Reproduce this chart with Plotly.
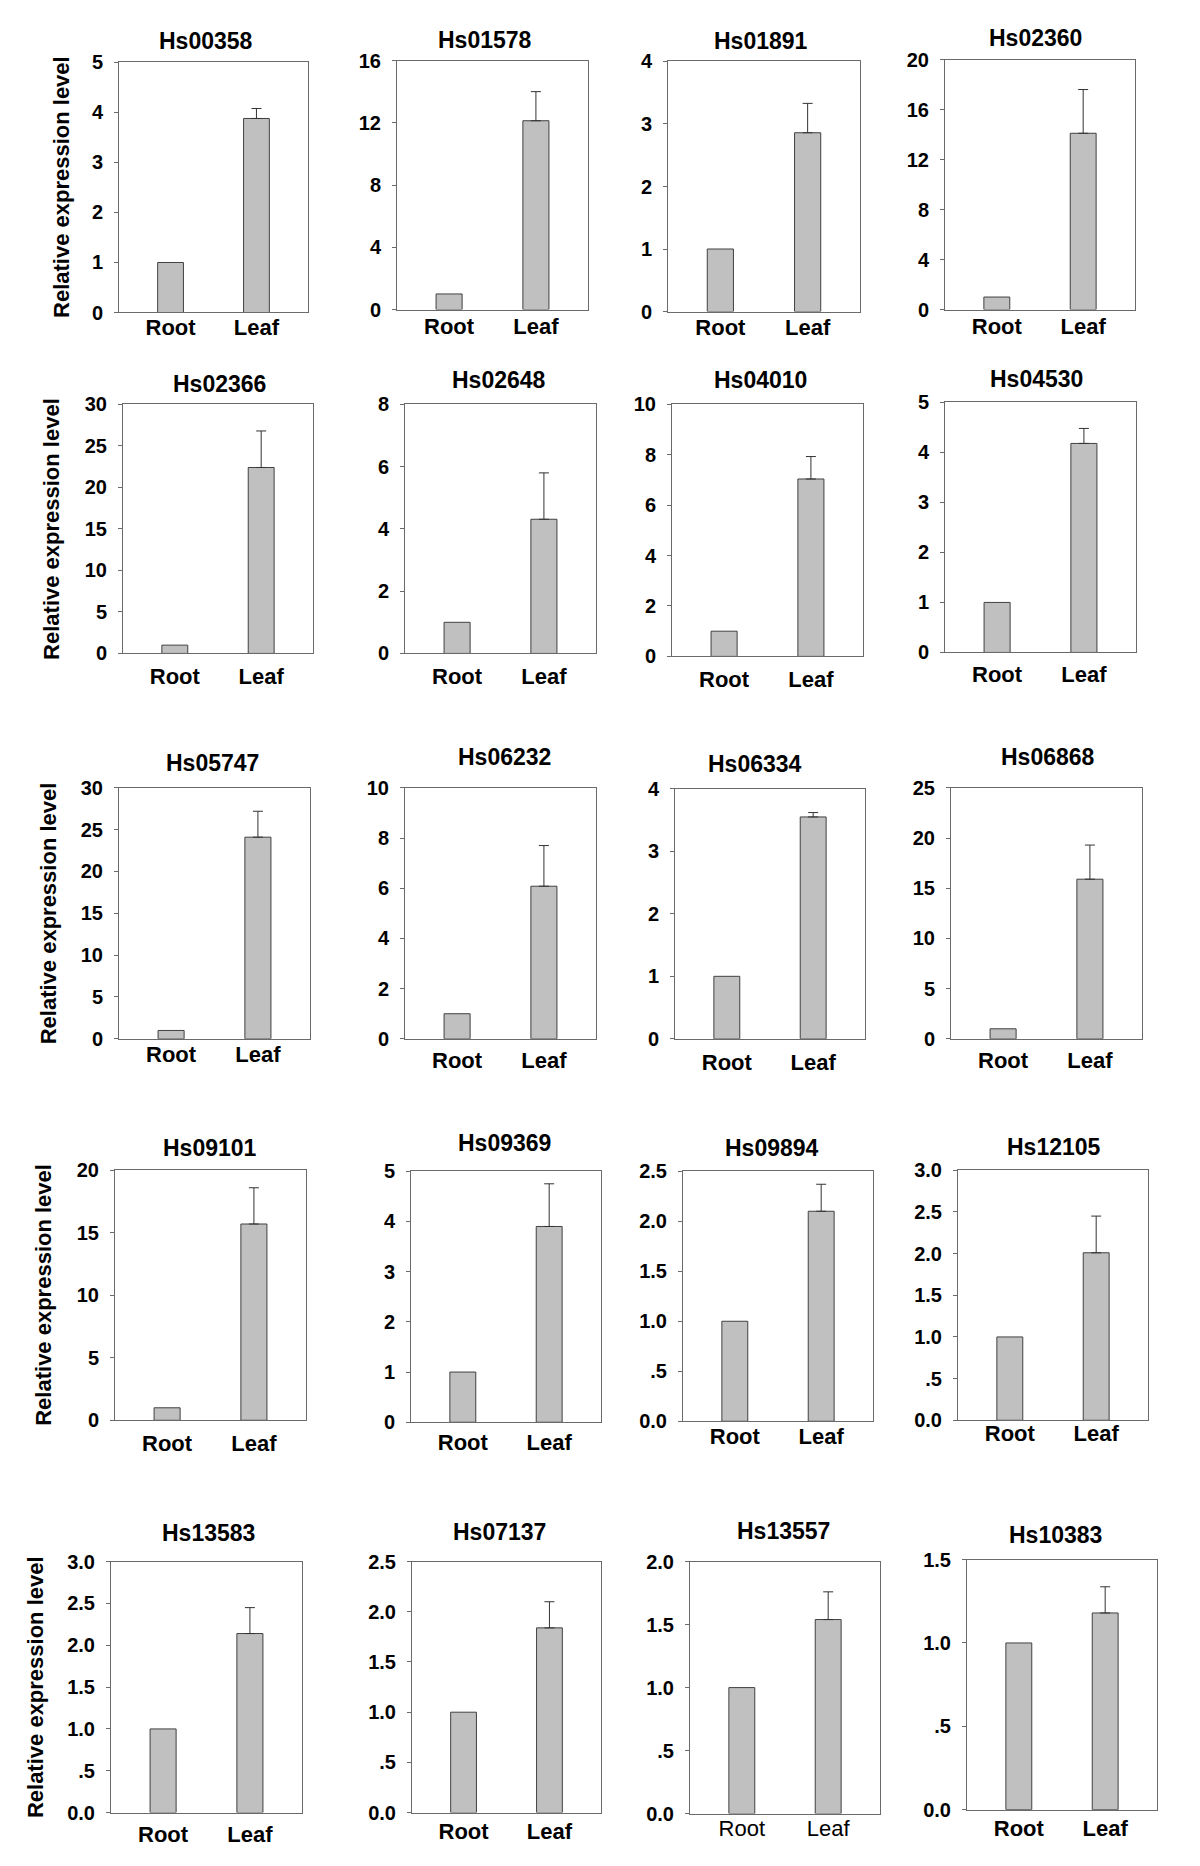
import plotly.graph_objects as go

# ---------------- data ----------------
genes = ["Hs00358", "Hs01578", "Hs01891", "Hs02360",
         "Hs02366", "Hs02648", "Hs04010", "Hs04530",
         "Hs05747", "Hs06232", "Hs06334", "Hs06868",
         "Hs09101", "Hs09369", "Hs09894", "Hs12105",
         "Hs13583", "Hs07137", "Hs13557", "Hs10383"]
categories = ["Root", "Leaf"]
root_values = [1, 1, 1, 1, 1, 1, 1, 1, 1, 1, 1, 1, 1, 1, 1, 1, 1, 1, 1, 1]
leaf_values = [3.88, 12.13, 2.86, 14.1, 22.4, 4.31, 7.04, 4.18, 24.1, 6.08,
               3.55, 15.9, 15.7, 3.90, 2.10, 2.01, 2.14, 1.84, 1.54, 1.18]
leaf_errors = [0.20, 1.87, 0.47, 3.5, 4.4, 1.49, 0.89, 0.30, 3.1, 1.62,
               0.07, 3.4, 2.9, 0.85, 0.27, 0.44, 0.31, 0.26, 0.22, 0.157]
y_max = [5, 16, 4, 20, 30, 8, 10, 5, 30, 10, 4, 25, 20, 5, 2.5, 3, 3, 2.5, 2, 1.5]
y_dtick = [1, 4, 1, 4, 5, 2, 2, 1, 5, 2, 1, 5, 5, 1, 0.5, 0.5, 0.5, 0.5, 0.5, 0.5]
y_axis_title = "Relative expression level"

# ---------------- layout (pixels in the page) ----------------
W, H = 1200, 1866
OFF = 8  # default body margin of the html page
panels = [  # left, right, top, bottom
    (119, 308, 52, 305), (397, 588, 50, 302), (668, 860, 51, 304), (945, 1135, 49, 302),
    (123, 313, 398, 650), (405, 596, 398, 650), (672, 863, 398, 653), (945, 1136, 396, 649),
    (119, 310, 786, 1040), (405, 596, 786, 1040), (675, 865, 787, 1040), (951, 1142, 786, 1040),
    (115, 306, 1173, 1426), (411, 601, 1174, 1428), (683, 873, 1174, 1427), (958, 1148, 1173, 1426),
    (111, 302, 1569, 1823), (412, 601, 1569, 1823), (690, 880, 1569, 1824), (967, 1157, 1567, 1820),
]
title_pos = [(206, 30), (485, 29), (761, 30), (1035, 27),
             (219, 377), (499, 373), (760, 373), (1036, 372),
             (212, 761), (504, 755), (755, 762), (1048, 755),
             (210, 1150), (504, 1145), (772, 1150), (1054, 1149),
             (208, 1540), (500, 1539), (783, 1538), (1055, 1542)]
xlabel_offset = [15, 17, 16, 17, 23, 23, 23, 22, 16, 22, 24, 22, 23, 20, 15, 13, 22, 19, 15, 19]
ytitle_pos = [(62, 178), (52, 524), (48, 913), (44, 1299), (35, 1696)]

FONT = "Liberation Sans, Arial, sans-serif"
BAR_FILL = "#c0c0c0"
BAR_LINE = "#404040"
AXIS = "#6a6a6a"


def px(x):
    return (x - OFF) / W


def py(y):
    return 1 - (y - OFF) / H


def fmt_tick(v, dt):
    if dt >= 1:
        return str(int(round(v)))
    if abs(v) < 1e-9:
        return "0.0"
    s = "%.1f" % v
    if s.startswith("0."):
        s = s[1:]
    return s


fig = go.Figure()
layout = dict(
    width=W, height=H, margin=dict(l=0, r=0, t=0, b=0),
    paper_bgcolor="white", plot_bgcolor="white",
    showlegend=False, barmode="overlay",
    font=dict(family=FONT, color="black"),
)
annotations = []

for i, g in enumerate(genes):
    n = i + 1
    xa = "x" if n == 1 else "x%d" % n
    ya = "y" if n == 1 else "y%d" % n
    l, r, t, b = panels[i]

    fig.add_trace(go.Bar(
        x=[categories[0]], y=[root_values[i]], xaxis=xa, yaxis=ya, width=0.3,
        marker=dict(color=BAR_FILL, line=dict(color=BAR_LINE, width=1)),
    ))
    fig.add_trace(go.Bar(
        x=[categories[1]], y=[leaf_values[i]], xaxis=xa, yaxis=ya, width=0.3,
        marker=dict(color=BAR_FILL, line=dict(color=BAR_LINE, width=1)),
        error_y=dict(type="data", symmetric=False, array=[leaf_errors[i]], arrayminus=[0],
                     color="#333333", thickness=1, width=5),
    ))

    nt = int(round(y_max[i] / y_dtick[i]))
    tvals = [k * y_dtick[i] for k in range(nt + 1)]
    ttext = [fmt_tick(v, y_dtick[i]) for v in tvals]

    xweight = "normal" if g == "Hs13557" else "bold"
    layout["xaxis" + ("" if n == 1 else str(n))] = dict(
        domain=[px(l), px(r)], anchor=ya, type="category",
        categoryorder="array", categoryarray=categories,
        range=[-0.6, 1.6], showgrid=False, zeroline=False,
        showline=True, linecolor=AXIS, linewidth=1, mirror=True,
        ticks="", tickfont=dict(size=22, weight=xweight, family=FONT, color="black"),
        ticklabelstandoff=xlabel_offset[i] - 20,
        fixedrange=True,
    )
    layout["yaxis" + ("" if n == 1 else str(n))] = dict(
        domain=[py(b), py(t)], anchor=xa,
        range=[0, y_max[i]], tickvals=tvals, ticktext=ttext,
        showgrid=False, zeroline=False,
        showline=True, linecolor=AXIS, linewidth=1, mirror=True,
        ticks="outside", ticklen=4, tickcolor=AXIS,
        tickfont=dict(size=20, weight="bold", family=FONT, color="black"),
        ticklabelstandoff=7,
        fixedrange=True,
    )
    cx, cy = title_pos[i]
    annotations.append(dict(
        text=g, x=px(cx), y=py(cy), xref="paper", yref="paper",
        showarrow=False, xanchor="center", yanchor="middle",
        font=dict(size=23, weight="bold", family=FONT, color="black"),
    ))

for (cx, cy) in ytitle_pos:
    annotations.append(dict(
        text=y_axis_title, x=px(cx), y=py(cy), xref="paper", yref="paper",
        showarrow=False, xanchor="center", yanchor="middle", textangle=-90,
        font=dict(size=22, weight="bold", family=FONT, color="black"),
    ))

layout["annotations"] = annotations
fig.update_layout(**layout)
fig.write_html("out.html")
